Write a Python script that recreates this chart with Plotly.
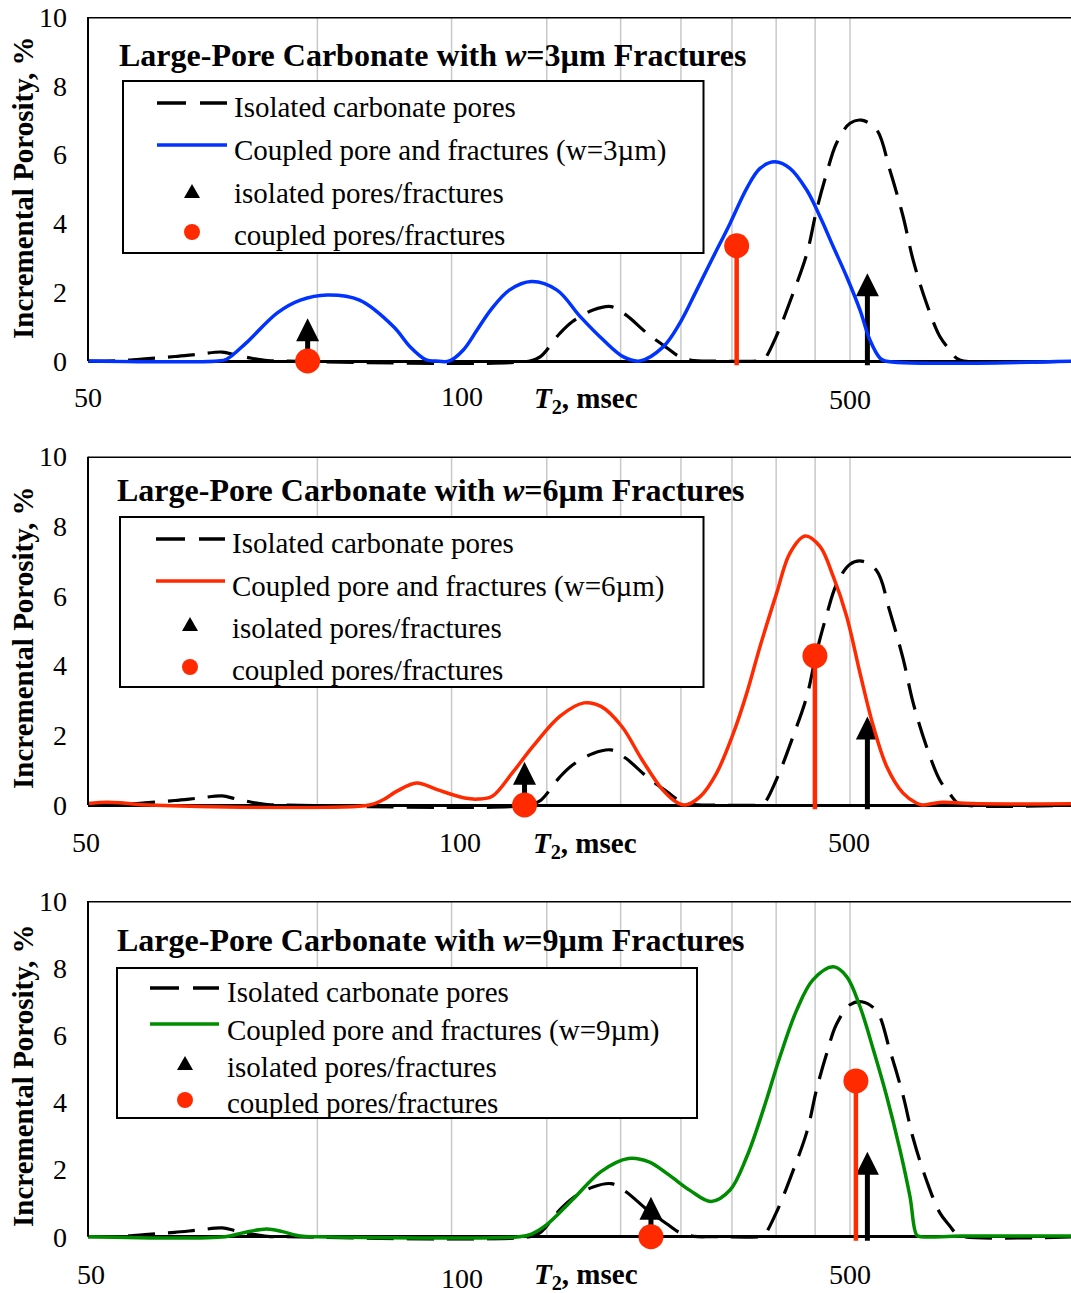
import math
import plotly.graph_objects as go

FIG_W, FIG_H = 1071, 1293

# ---------------- data ----------------
# T2 relaxation time (msec) and incremental porosity (%) of the isolated carbonate pores
iso_t = [50, 55, 60, 65, 70, 75, 78, 82, 86, 90,
         190, 196, 208, 216, 230, 243, 254, 271, 288, 299, 312, 330,
         380, 385, 400, 421, 439, 452, 466, 480, 500, 518, 542, 564, 587, 605, 630, 656, 676, 690, 705, 1000]
iso_v = [0, 0.01, 0.07, 0.13, 0.2, 0.26, 0.18, 0.08, 0.01, 0,
         0, 0.12, 0.8, 1.14, 1.48, 1.58, 1.34, 0.8, 0.37, 0.12, 0.01, 0,
         0, 0.03, 0.71, 1.97, 3.13, 4.39, 5.46, 6.33, 6.91, 7.0, 6.72, 5.55, 4.2, 2.94, 1.68, 0.71, 0.32, 0.08, 0, 0]

# coupled pore + fracture distributions
w3_t = [50, 74, 76, 80.6, 88.6, 95, 103, 113.6, 126, 132.4, 139, 143, 149, 155.4, 162, 168.8, 178.6, 191,
        206.3, 221.3, 237.3, 252.2, 265, 284.3, 299, 314.6, 330.8, 348, 366, 381, 398.6, 417, 438.7,
        456.6, 475.4, 495, 515.4, 531, 547.6, 556, 1000]
w3_v = [0, 0, 0.05, 0.52, 1.4, 1.77, 1.92, 1.77, 0.99, 0.41, 0.03, 0, 0, 0.32, 0.9, 1.48, 2.06, 2.31,
        2.06, 1.29, 0.61, 0.12, 0, 0.41, 1.1, 2.06, 3.03, 4.0, 5.02, 5.6, 5.79, 5.6, 4.97,
        4.2, 3.32, 2.45, 1.48, 0.61, 0.08, 0, 0]

w6_t = [50, 53, 56, 60, 117, 122, 127, 135, 143.6, 156, 162.5, 169.6, 180.2, 191.8, 208.2, 223.8, 235.6,
        250.8, 266.7, 283.7, 297, 304, 317.9, 334, 351.5, 366, 381, 400.6, 417, 436.5, 456.6, 475.4,
        495, 515.4, 536.7, 558.8, 587, 611.6, 622, 660, 720, 1000]
w6_v = [0.04, 0.08, 0.05, 0, 0, 0.15, 0.39, 0.63, 0.44, 0.2, 0.17, 0.25, 0.92, 1.68, 2.55, 2.93, 2.83,
        2.26, 1.3, 0.44, 0.06, 0, 0.24, 0.91, 2.06, 3.21, 4.55, 6.08, 7.23, 7.72, 7.42, 6.55,
        5.41, 3.78, 2.25, 1.1, 0.34, 0.05, 0, 0.08, 0.04, 0.04]

w9_t = [50, 75.7, 80, 85.8, 90, 95, 100, 184, 191, 199.8, 217, 235.6, 255.9, 272.3, 289.3, 308.3,
        328.6, 348, 366, 384.6, 404.6, 425.6, 447, 475.4, 495, 515.4, 536.7, 558.8, 581.6, 599.4,
        611.6, 620, 700, 1000]
w9_v = [0, 0, 0.12, 0.23, 0.15, 0.02, 0, 0, 0.08, 0.35, 1.14, 1.94, 2.33, 2.23, 1.84, 1.38,
        1.05, 1.39, 2.38, 3.77, 5.36, 6.75, 7.65, 8.04, 7.75, 6.85, 5.56, 4.17, 2.58, 1.19,
        0.05, 0, 0.02, 0.02]

# characteristic T2 of coupled (circle) and isolated (arrow) pores/fractures
w3_coupled_t, w3_coupled_v = [97.1, 355], [0, 3.35]
w6_coupled_t, w6_coupled_v = [187, 449.7], [0, 4.28]
w9_coupled_t, w9_coupled_v = [274, 509], [0, 4.64]
w3_isolated_t, w3_isolated_v = [97.1, 527], [1.24, 2.55]
w6_isolated_t, w6_isolated_v = [187, 527], [1.24, 2.54]
w9_isolated_t, w9_isolated_v = [274, 527], [1.19, 2.53]

fracture_widths = ["3", "6", "9"]
y_ticks = [0, 2, 4, 6, 8, 10]
x_tick_labels = ["50", "100", "500"]
grid_t = [100, 150, 200, 250, 300, 350, 400, 450, 500]

# ---------------- style ----------------
FONT = "Liberation Serif"
BLACK = "#000000"
STEM_RED = "#FF2A00"
curve_colors = ["#0033FF", "#FF2A00", "#008C00"]
DASH = "27px,13px"
SMOOTH = 1.0
X_LEFT = 88
PX_PER_DECADE = 762
Y_MIN = -0.12
STEM_BASE = -0.15
HEAD = 23  # arrowhead size, px

x_range = [math.log10(50), math.log10(50) + (FIG_W - X_LEFT) / PX_PER_DECADE]

# panel geometry in pixels
panels = [
    dict(y10=17, y0=361, title=(117, 55), box=(123, 81, 703.5, 253), sym_x=(157, 227), mark_x=192,
         text_x=232, text_y=[107, 150, 193, 235], sym_y=[103, 145, 192, 232],
         tick_x=[88, 462, 850], tick_y=[398, 396, 399], xlabel=(586, 400), ytitle_y=188),
    dict(y10=456.5, y0=805, title=(115, 490), box=(120, 517, 703.5, 687), sym_x=(156, 225), mark_x=190,
         text_x=230, text_y=[543, 586, 628, 670], sym_y=[539, 581, 625, 667],
         tick_x=[86, 460, 849], tick_y=[842, 842, 842], xlabel=(585, 845), ytitle_y=638),
    dict(y10=901, y0=1236.7, title=(115, 940), box=(117, 968, 697, 1118), sym_x=(150, 219), mark_x=185,
         text_x=225, text_y=[992, 1030, 1067, 1103], sym_y=[988, 1024, 1064, 1100],
         tick_x=[91, 462, 850], tick_y=[1274, 1278, 1274], xlabel=(586, 1276), ytitle_y=1076),
]

curves = [(w3_t, w3_v), (w6_t, w6_v), (w9_t, w9_v)]
coupled = [(w3_coupled_t, w3_coupled_v), (w6_coupled_t, w6_coupled_v), (w9_coupled_t, w9_coupled_v)]
isolated = [(w3_isolated_t, w3_isolated_v), (w6_isolated_t, w6_isolated_v), (w9_isolated_t, w9_isolated_v)]


def pxx(x):
    return x / FIG_W


def pxy(y):
    return 1 - y / FIG_H


fig = go.Figure()
shapes, annotations = [], []
layout = {}

for i, p in enumerate(panels):
    sfx = "" if i == 0 else str(i + 1)
    xa, ya = "x" + sfx, "y" + sfx
    ppu = (p["y0"] - p["y10"]) / 10.0
    bottom_px = p["y0"] + (0 - Y_MIN) * ppu
    layout["xaxis" + sfx] = dict(
        type="log", range=x_range, domain=[pxx(X_LEFT), 1.0], anchor=ya, automargin=False,
        showticklabels=False, showgrid=False, zeroline=False, showline=False, ticks="")
    layout["yaxis" + sfx] = dict(
        range=[Y_MIN, 10], domain=[pxy(bottom_px), pxy(p["y10"])], anchor=xa, automargin=False,
        tickvals=y_ticks, ticks="", showgrid=False, showline=False,
        zeroline=True, zerolinecolor=BLACK, zerolinewidth=2.5,
        tickfont=dict(family=FONT, size=28, color=BLACK), ticklabelstandoff=20)

    # vertical grid lines and plot frame
    for g in grid_t:
        shapes.append(dict(type="line", xref=xa, yref=ya, x0=g, x1=g, y0=0, y1=10,
                           line=dict(color="#C8C8C8", width=1.5), layer="below"))
    shapes.append(dict(type="line", xref=xa + " domain", yref=ya, x0=0, x1=1, y0=10, y1=10,
                       line=dict(color=BLACK, width=3)))
    shapes.append(dict(type="line", xref=xa + " domain", yref=ya, x0=0, x1=0, y0=0, y1=10,
                       line=dict(color=BLACK, width=2)))

    color = curve_colors[i]
    fig.add_trace(go.Scatter(x=iso_t, y=iso_v, xaxis=xa, yaxis=ya, mode="lines", showlegend=False,
                             line=dict(color=BLACK, width=3.2, dash=DASH, shape="spline",
                                       smoothing=SMOOTH)))

    # isolated pores/fractures: arrows
    it, iv = isolated[i]
    head_h = HEAD / ppu
    for t, v in zip(it, iv):
        fig.add_trace(go.Scatter(x=[t, t], y=[STEM_BASE, v - head_h * 0.9], xaxis=xa, yaxis=ya,
                                 mode="lines", showlegend=False, line=dict(color=BLACK, width=5)))
    fig.add_trace(go.Scatter(x=it, y=iv, xaxis=xa, yaxis=ya, mode="markers", showlegend=False,
                             cliponaxis=False,
                             marker=dict(symbol="arrow-up", size=HEAD, color=BLACK, line=dict(width=0))))

    ct, cv = curves[i]
    fig.add_trace(go.Scatter(x=ct, y=cv, xaxis=xa, yaxis=ya, mode="lines", showlegend=False,
                             line=dict(color=color, width=3.5, shape="spline", smoothing=SMOOTH)))

    # coupled pores/fractures: stems with circles
    st, sv = coupled[i]
    for t, v in zip(st, sv):
        fig.add_trace(go.Scatter(x=[t, t], y=[STEM_BASE, v], xaxis=xa, yaxis=ya, mode="lines",
                                 showlegend=False, line=dict(color=STEM_RED, width=4.5)))
    fig.add_trace(go.Scatter(x=st, y=sv, xaxis=xa, yaxis=ya, mode="markers", showlegend=False,
                             cliponaxis=False,
                             marker=dict(symbol="circle", size=25, color=STEM_RED, line=dict(width=0))))

    # panel title
    w = fracture_widths[i]
    annotations.append(dict(xref="paper", yref="paper", x=pxx(p["title"][0]), y=pxy(p["title"][1]),
                            xanchor="left", yanchor="middle", showarrow=False,
                            text=f"<b>Large-Pore Carbonate with <i>w</i>={w}µm Fractures</b>",
                            font=dict(family=FONT, size=32, color=BLACK)))

    # legend box
    bx0, by0, bx1, by1 = p["box"]
    shapes.append(dict(type="rect", xref="paper", yref="paper", x0=pxx(bx0), x1=pxx(bx1),
                       y0=pxy(by1), y1=pxy(by0), line=dict(color=BLACK, width=2),
                       fillcolor="white"))
    sx0, sx1 = p["sym_x"]
    shapes.append(dict(type="line", xref="paper", yref="paper", x0=pxx(sx0), x1=pxx(sx1),
                       y0=pxy(p["sym_y"][0]), y1=pxy(p["sym_y"][0]),
                       line=dict(color=BLACK, width=3.5, dash="29px,14px")))
    shapes.append(dict(type="line", xref="paper", yref="paper", x0=pxx(sx0), x1=pxx(sx1),
                       y0=pxy(p["sym_y"][1]), y1=pxy(p["sym_y"][1]),
                       line=dict(color=color, width=3.5)))
    shapes.append(dict(type="path", xref="paper", yref="paper", xsizemode="pixel", ysizemode="pixel",
                       xanchor=pxx(p["mark_x"]), yanchor=pxy(p["sym_y"][2]),
                       path="M-8,-6 L8,-6 L0,8 Z", fillcolor=BLACK, line=dict(width=0)))
    shapes.append(dict(type="circle", xref="paper", yref="paper", xsizemode="pixel", ysizemode="pixel",
                       xanchor=pxx(p["mark_x"]), yanchor=pxy(p["sym_y"][3]),
                       x0=-8, x1=8, y0=-8, y1=8, fillcolor=STEM_RED, line=dict(width=0)))
    legend_texts = ["Isolated carbonate pores", f"Coupled pore and fractures (w={w}µm)",
                    "isolated pores/fractures", "coupled pores/fractures"]
    for txt, ty in zip(legend_texts, p["text_y"]):
        annotations.append(dict(xref="paper", yref="paper", x=pxx(p["text_x"]), y=pxy(ty),
                                xanchor="left", yanchor="middle", showarrow=False, text=txt,
                                font=dict(family=FONT, size=29, color=BLACK)))

    # x tick labels and axis title
    for lab, tx, ty in zip(x_tick_labels, p["tick_x"], p["tick_y"]):
        annotations.append(dict(xref="paper", yref="paper", x=pxx(tx), y=pxy(ty),
                                xanchor="center", yanchor="middle", showarrow=False, text=lab,
                                font=dict(family=FONT, size=28, color=BLACK)))
    annotations.append(dict(xref="paper", yref="paper", x=pxx(p["xlabel"][0]), y=pxy(p["xlabel"][1]),
                            xanchor="center", yanchor="middle", showarrow=False,
                            text="<b><i>T</i><sub>2</sub>, msec</b>",
                            font=dict(family=FONT, size=29, color=BLACK)))
    # y-axis title
    annotations.append(dict(xref="paper", yref="paper", x=pxx(23), y=pxy(p["ytitle_y"]),
                            xanchor="center", yanchor="middle", showarrow=False, textangle=-90,
                            text="<b>Incremental Porosity, %</b>",
                            font=dict(family=FONT, size=29, color=BLACK)))

fig.update_layout(
    width=FIG_W, height=FIG_H, margin=dict(l=0, r=0, t=0, b=0, autoexpand=False),
    paper_bgcolor="white", plot_bgcolor="white", showlegend=False,
    shapes=shapes, annotations=annotations, **layout)

fig.write_html("out.html")
